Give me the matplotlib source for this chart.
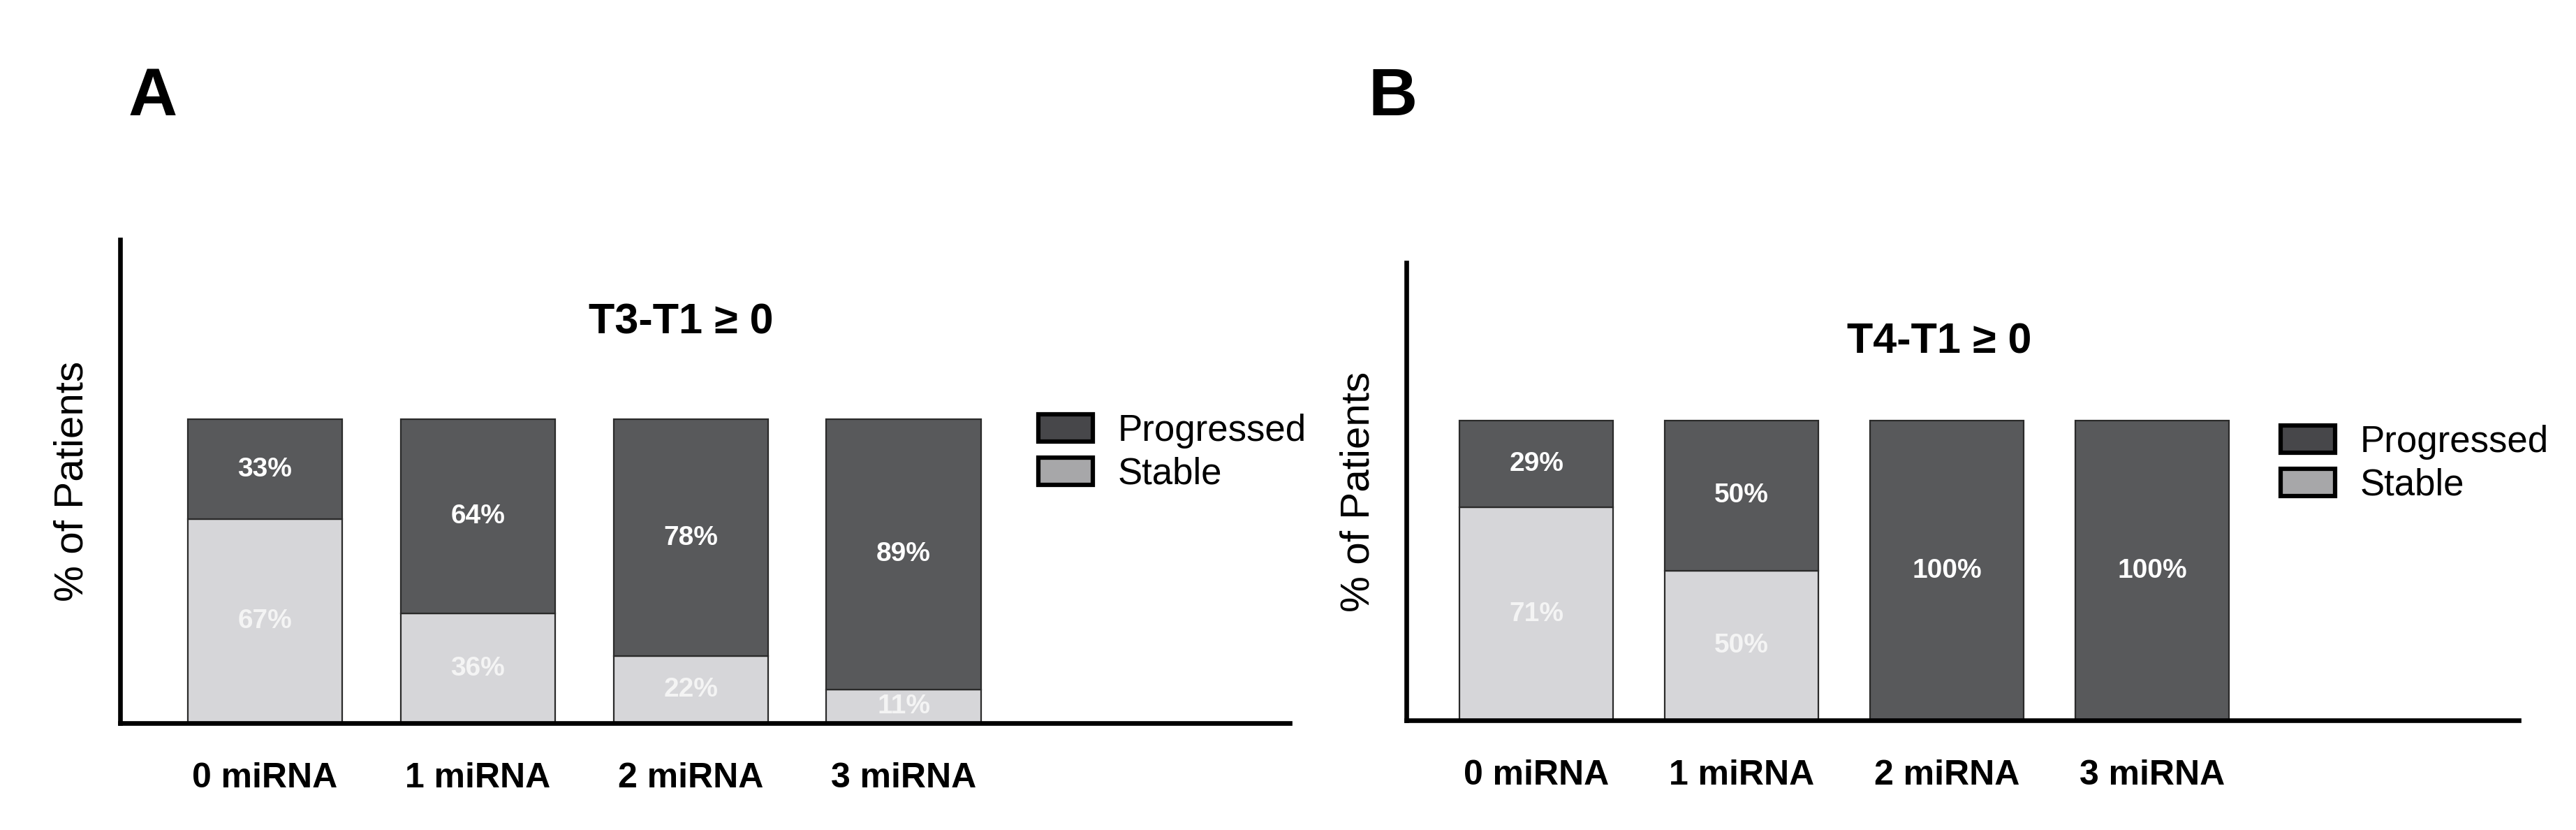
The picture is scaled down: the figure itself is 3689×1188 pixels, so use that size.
import matplotlib
matplotlib.use("Agg")
import matplotlib.pyplot as plt
from matplotlib.patches import Patch
import numpy as np

# ---- data ----
categories = ["0 miRNA", "1 miRNA", "2 miRNA", "3 miRNA"]
stable_A = [67, 36, 22, 11]
progressed_A = [33, 64, 78, 89]
stable_B = [71, 50, 0, 0]
progressed_B = [29, 50, 100, 100]
titles = ["T3-T1 \u2265 0", "T4-T1 \u2265 0"]
panel_letters = ["A", "B"]
series_names = ["Progressed", "Stable"]

W, H = 3689, 1188
DPI = 100
fig = plt.figure(figsize=(W / DPI, H / DPI), dpi=DPI)

NARROW = ["Liberation Sans Narrow", "Liberation Sans", "DejaVu Sans"]
REG = ["Liberation Sans", "DejaVu Sans"]

PROG_C = "#58595b"
STAB_C = "#d6d6d9"
LEG_PROG = "#47474a"
LEG_STAB = "#a7a7a9"


def fx(px):
    return px / W


def fy(py):
    return 1 - py / H


def panel(ax_rect, xlim, ylim, width, stable, prog, title, title_xy, letter,
          letter_xy, leg_xy):
    ax = fig.add_axes(ax_rect)
    x = np.arange(len(categories))
    ax.bar(x, stable, width=width, color=STAB_C, edgecolor="#2a2a2a",
           linewidth=1.6, zorder=2)
    ax.bar(x, prog, width=width, bottom=stable, color=PROG_C,
           edgecolor="#2a2a2a", linewidth=1.6, zorder=2)
    for xi, s, p in zip(x, stable, prog):
        if s > 0:
            ax.text(xi, s / 2, f"{s}%", ha="center", va="center",
                    color="#f4f4f4", fontsize=28, fontweight="bold",
                    family=NARROW, zorder=3)
        if p > 0:
            ax.text(xi, s + p / 2, f"{p}%", ha="center", va="center",
                    color="white", fontsize=28, fontweight="bold",
                    family=NARROW, zorder=3)
    ax.set_xlim(*xlim)
    ax.set_ylim(*ylim)
    for side in ["top", "right"]:
        ax.spines[side].set_visible(False)
    for side in ["left", "bottom"]:
        ax.spines[side].set_linewidth(4.8)
        ax.spines[side].set_color("black")
    ax.set_yticks([])
    ax.set_xticks(x)
    ax.set_xticklabels(categories, fontsize=36, fontweight="bold",
                       family=NARROW)
    ax.tick_params(axis="x", length=0, pad=40)
    ax.set_ylabel("% of Patients", fontsize=42, family=REG, labelpad=30)
    fig.text(fx(title_xy[0]), fy(title_xy[1]), title, ha="center",
             va="baseline", fontsize=44, fontweight="bold", family=REG)
    fig.text(fx(letter_xy[0]), fy(letter_xy[1]), letter, ha="center",
             va="baseline", fontsize=70, fontweight="bold", family=REG)
    handles = [Patch(facecolor=LEG_PROG, edgecolor="black", linewidth=4.5),
               Patch(facecolor=LEG_STAB, edgecolor="black", linewidth=4.5)]
    ax.legend(handles, series_names, loc="upper left",
              bbox_to_anchor=(fx(leg_xy[0]), fy(leg_xy[1])),
              bbox_transform=fig.transFigure, frameon=False,
              prop={"family": REG, "size": 38}, handlelength=1.47,
              handleheight=0.76, handletextpad=0.68, labelspacing=0.22,
              borderpad=0, borderaxespad=0)
    return ax


# Panel A
panel([fx(172), 1 - 1035 / H, fx(1847 - 172), (1035 - 343) / H],
      (-0.679, 4.813), (0, 159), 0.725, stable_A, progressed_A, titles[0],
      (975, 478), panel_letters[0], (219, 165), (1487, 592))

# Panel B
panel([fx(2014), 1 - 1031 / H, fx(3607 - 2014), (1031 - 376) / H],
      (-0.633, 4.786), (0, 152.7), 0.748, stable_B, progressed_B, titles[1],
      (2777, 505), panel_letters[1], (1995, 165), (3266, 608))

fig.savefig("out.png", dpi=DPI, facecolor="white")
